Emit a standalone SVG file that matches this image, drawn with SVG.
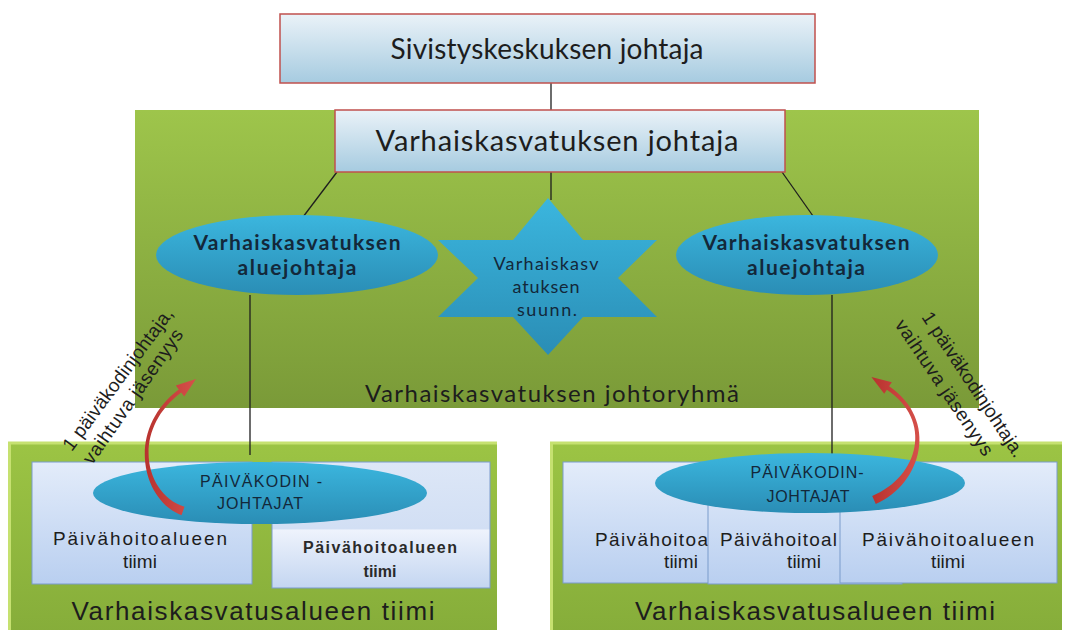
<svg xmlns="http://www.w3.org/2000/svg" width="1068" height="630" viewBox="0 0 1068 630">
<defs>
<linearGradient id="topg" x1="0" y1="0" x2="0" y2="1"><stop offset="0" stop-color="#eaf2f8"/><stop offset="1" stop-color="#a6cbe0"/></linearGradient>
<linearGradient id="greenbig" x1="0" y1="0" x2="0" y2="1"><stop offset="0" stop-color="#9ec54b"/><stop offset="1" stop-color="#7a9a38"/></linearGradient>
<linearGradient id="greenlow" x1="0" y1="0" x2="0" y2="1"><stop offset="0" stop-color="#9cc444"/><stop offset="1" stop-color="#86ad3a"/></linearGradient>
<linearGradient id="ellg" x1="0" y1="0" x2="0" y2="1"><stop offset="0" stop-color="#3bb6de"/><stop offset="1" stop-color="#2a8db5"/></linearGradient>
<linearGradient id="boxg" x1="0" y1="0" x2="0" y2="1"><stop offset="0" stop-color="#e3ecfa"/><stop offset="1" stop-color="#b9cff0"/></linearGradient>
<linearGradient id="box2g" x1="0" y1="0" x2="0" y2="1"><stop offset="0" stop-color="#dde7f7"/><stop offset="0.53" stop-color="#d2dff4"/><stop offset="0.54" stop-color="#eef3fc"/><stop offset="1" stop-color="#c4d6f1"/></linearGradient>
<linearGradient id="redg" x1="0" y1="0" x2="1" y2="0"><stop offset="0" stop-color="#b8322e"/><stop offset="1" stop-color="#d6504a"/></linearGradient>
</defs>
<style>
.topbox{fill:url(#topg);stroke:#c0504d;stroke-width:1.5}
.ell{fill:url(#ellg)}
.box{fill:url(#boxg);stroke:#7b9bcc;stroke-width:1}
.ln{stroke:#1e1e1e;stroke-width:1.3;fill:none}
.cal{font-family:Lato,"Open Sans","Liberation Sans",sans-serif;fill:#1d1d1d}
.ar{font-family:"Liberation Sans",Arial,sans-serif;fill:#1d1d1d}
.navy{fill:#13283a;font-weight:bold}
.dk{fill:#13283a}
.red{fill:url(#redg)}
</style>

<!-- backgrounds -->
<g id="johtoryhma">
<rect x="135" y="110" width="844" height="298" fill="url(#greenbig)"/>
<text class="cal" x="552" y="402" font-size="24" text-anchor="middle" textLength="374">Varhaiskasvatuksen johtoryhmä</text>
</g>
<g id="alue-left">
<rect x="8" y="443" width="489" height="190" fill="url(#greenlow)"/>
<path d="M8,443 H497 M9.5,443 V630" stroke="#c6e170" stroke-width="3"/>
</g>
<g id="alue-right">
<rect x="550" y="443" width="512" height="190" fill="url(#greenlow)"/>
<path d="M550,443 H1062 M551.5,443 V630" stroke="#c6e170" stroke-width="3"/>
</g>

<!-- connectors -->
<g id="connectors">
<line class="ln" x1="551" y1="83" x2="551" y2="110"/>
<line class="ln" x1="337" y1="172" x2="303" y2="217"/>
<line class="ln" x1="782" y1="172" x2="813" y2="216"/>
<line class="ln" x1="551" y1="172" x2="551" y2="200"/>
<line class="ln" x1="250" y1="295" x2="250" y2="455"/>
<line class="ln" x1="832" y1="295" x2="832" y2="455"/>
</g>

<g id="sivistys">
<rect class="topbox" x="280" y="14" width="535" height="69"/>
<text class="cal" x="547" y="59" font-size="28" text-anchor="middle" textLength="313">Sivistyskeskuksen johtaja</text>
</g>
<g id="vk-johtaja">
<rect class="topbox" x="335" y="110" width="450" height="62"/>
<text class="cal" x="557" y="151" font-size="29" text-anchor="middle" textLength="363">Varhaiskasvatuksen johtaja</text>
</g>
<g id="aluejohtaja-left">
<ellipse class="ell" cx="297" cy="255" rx="141" ry="40"/>
<text class="cal navy" x="297" y="250" font-size="21" text-anchor="middle" textLength="207">Varhaiskasvatuksen</text>
<text class="cal navy" x="297" y="275" font-size="21" text-anchor="middle" textLength="119">aluejohtaja</text>
</g>
<g id="aluejohtaja-right">
<ellipse class="ell" cx="807" cy="255" rx="131" ry="40"/>
<text class="cal navy" x="806" y="250" font-size="21" text-anchor="middle" textLength="207">Varhaiskasvatuksen</text>
<text class="cal navy" x="806" y="275" font-size="21" text-anchor="middle" textLength="118">aluejohtaja</text>
</g>
<g id="suunn">
<polygon class="ell" points="548,198 583,240 657,240 618,278 657,317 583,317 548,355 513,317 438,317 478,278 438,240 513,240"/>
<text class="cal dk" x="546" y="270" font-size="18" text-anchor="middle" textLength="105">Varhaiskasv</text>
<text class="cal dk" x="546" y="293" font-size="18" text-anchor="middle" textLength="67">atuksen</text>
<text class="cal dk" x="547" y="316" font-size="18" text-anchor="middle" textLength="60">suunn.</text>
</g>

<!-- bottom left team -->
<g id="tiimi-l2">
<rect x="272" y="462" width="218" height="126" fill="url(#box2g)" stroke="#7b9bcc" stroke-width="1"/>
<text class="ar" x="380" y="553" font-size="16" font-weight="bold" text-anchor="middle" textLength="154" style="fill:#2a2a2a">Päivähoitoalueen</text>
<text class="ar" x="380" y="577" font-size="16" font-weight="bold" text-anchor="middle" style="fill:#2a2a2a">tiimi</text>
</g>
<g id="tiimi-l1">
<rect class="box" x="32" y="462" width="220" height="122"/>
<text class="ar" x="140" y="545" font-size="19" text-anchor="middle" textLength="174">Päivähoitoalueen</text>
<text class="ar" x="140" y="568" font-size="19" text-anchor="middle">tiimi</text>
</g>
<g id="pk-johtajat-left">
<ellipse class="ell" cx="260" cy="493" rx="167" ry="31"/>
<text class="ar dk" x="261" y="487" font-size="16" text-anchor="middle" textLength="122">PÄIVÄKODIN -</text>
<text class="ar dk" x="260" y="509" font-size="16" text-anchor="middle" textLength="86">JOHTAJAT</text>
</g>
<text class="ar" x="253" y="620" font-size="26" text-anchor="middle" textLength="363">Varhaiskasvatusalueen tiimi</text>

<!-- bottom right team -->
<g id="tiimi-r1">
<rect class="box" x="563" y="462" width="236" height="121"/>
<text class="ar" x="595" y="546" font-size="19" textLength="113">Päivähoitoa</text>
<text class="ar" x="681" y="568" font-size="19" text-anchor="middle">tiimi</text>
</g>
<g id="tiimi-r2">
<rect class="box" x="708" y="462" width="194" height="122"/>
<text class="ar" x="720" y="546" font-size="19" textLength="117">Päivähoitoal</text>
<text class="ar" x="804" y="568" font-size="19" text-anchor="middle">tiimi</text>
</g>
<g id="tiimi-r3">
<rect class="box" x="840" y="462" width="217" height="121"/>
<text class="ar" x="948" y="546" font-size="19" text-anchor="middle" textLength="172">Päivähoitoalueen</text>
<text class="ar" x="948" y="568" font-size="19" text-anchor="middle">tiimi</text>
</g>
<g id="pk-johtajat-right">
<ellipse class="ell" cx="810" cy="483" rx="155" ry="30"/>
<text class="ar dk" x="807" y="478" font-size="16" text-anchor="middle" textLength="113">PÄIVÄKODIN-</text>
<text class="ar dk" x="808" y="502" font-size="16" text-anchor="middle" textLength="83">JOHTAJAT</text>
</g>
<text class="ar" x="815" y="620" font-size="26" text-anchor="middle" textLength="360">Varhaiskasvatusalueen tiimi</text>

<!-- red rotation arrows -->
<g id="arrows">
<path class="red" d="M184.5,506.75 C144,494 131,430 181.2,392.6 L184.2,396.6 L196,379 L175.8,385.4 L178.8,389.4 C125,430 142,500 181.5,515.25 Z"/>
<path class="red" d="M872.2,495.9 C919.5,476.5 933,420 886.9,389.7 L884.2,393.8 L871.4,377 L891.9,382.2 L889.1,386.3 C939,420 922.5,483.5 875.8,504.1 Z"/>
</g>

<!-- rotated membership labels -->
<g id="label-left">
<text class="ar" font-size="19" text-anchor="middle" textLength="172" transform="translate(123,383) rotate(-53.5)">1 päiväkodinjohtaja,</text>
<text class="ar" font-size="19" text-anchor="middle" textLength="160" transform="translate(138,400) rotate(-55)">vaihtuva jäsenyys</text>
</g>
<g id="label-right">
<text class="ar" font-size="19" text-anchor="middle" textLength="170" transform="translate(968,388) rotate(56.5)">1 päiväkodinjohtaja.</text>
<text class="ar" font-size="19" text-anchor="middle" textLength="160" transform="translate(939,391) rotate(56)">vaihtuva jäsenyys</text>
</g>
</svg>
